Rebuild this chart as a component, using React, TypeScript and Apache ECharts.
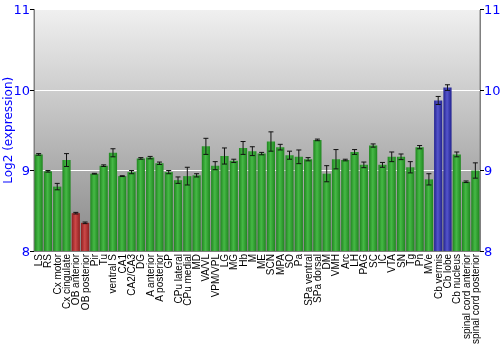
import React, { useEffect, useRef } from "react";
import * as echarts from "echarts";

const categories = [
  "LS", "RS", "Cx motor", "Cx cingulate", "OB anterior", "OB posterior", "Pir", "Tu",
  "ventral S", "CA1", "CA2/CA3", "DG", "A anterior", "A posterior", "GP", "CPu lateral",
  "CPu medial", "MD", "VA/VL", "VPM/VPL", "LG", "MG", "Hb", "M", "ME", "SCN", "MPA", "SO",
  "Pa", "SPa ventral", "SPa dorsal", "DM", "VMH", "Arc", "LH", "PAG", "SC", "IC", "VTA",
  "SN", "Tg", "Pn", "MVe", "Cb vermis", "Cb lobe", "Cb nucleus", "spinal cord anterior",
  "spinal cord posterior",
];

const values = [
  9.2, 8.99, 8.8, 9.13, 8.47, 8.35, 8.96, 9.06, 9.22, 8.93, 8.98, 9.15, 9.16, 9.09, 8.98,
  8.88, 8.93, 8.94, 9.3, 9.06, 9.18, 9.12, 9.28, 9.24, 9.21, 9.36, 9.29, 9.19, 9.17, 9.14,
  9.38, 8.96, 9.14, 9.13, 9.23, 9.07, 9.31, 9.07, 9.17, 9.17, 9.04, 9.29, 8.89, 9.87, 10.03,
  9.2, 8.86, 9.0,
];

const errors = [
  0.01, 0.01, 0.04, 0.08, 0.01, 0.01, 0.005, 0.01, 0.05, 0.005, 0.02, 0.01, 0.015, 0.015,
  0.02, 0.04, 0.11, 0.02, 0.1, 0.05, 0.1, 0.02, 0.08, 0.055, 0.015, 0.12, 0.035, 0.05,
  0.085, 0.02, 0.01, 0.1, 0.12, 0.01, 0.03, 0.035, 0.02, 0.03, 0.06, 0.035, 0.07, 0.02,
  0.07, 0.05, 0.035, 0.03, 0.01, 0.095,
];

// group per category: g = green, r = red (olfactory bulb), b = blue (cerebellum)
const groups = [
  "g", "g", "g", "g", "r", "r", "g", "g", "g", "g", "g", "g", "g", "g", "g", "g",
  "g", "g", "g", "g", "g", "g", "g", "g", "g", "g", "g", "g", "g", "g", "g", "g",
  "g", "g", "g", "g", "g", "g", "g", "g", "g", "g", "g", "b", "b", "g", "g", "g",
];

const yTicks = [8, 9, 10, 11];

const palette: Record<string, [string, string]> = {
  g: ["#1f861f", "#46b946"],
  r: ["#8f2020", "#cc4848"],
  b: ["#22228f", "#5555cc"],
};

function grad(edge: string, mid: string) {
  return new echarts.graphic.LinearGradient(0, 0, 1, 0, [
    { offset: 0, color: edge },
    { offset: 0.45, color: mid },
    { offset: 1, color: edge },
  ]);
}

export default function App() {
  const ref = useRef<HTMLDivElement>(null);
  useEffect(() => {
    if (!ref.current) return;
    const chart = echarts.init(ref.current, undefined, { renderer: "svg" });
    const axisLabelStyle = {
      color: "#0000ff",
      fontFamily: "DejaVu Sans",
      fontSize: 13,
      margin: 4,
    };
    chart.setOption({
      animation: false,
      grid: {
        left: 34,
        right: 20,
        top: 9.5,
        bottom: 99,
        outerBoundsMode: "none",
        containLabel: false,
        show: true,
        borderColor: "#808080",
        borderWidth: 1,
        backgroundColor: new echarts.graphic.LinearGradient(0, 0, 0, 1, [
          { offset: 0, color: "#f0f0f0" },
          { offset: 1, color: "#888888" },
        ]),
      },
      xAxis: {
        type: "category",
        data: categories,
        axisLine: { show: true, lineStyle: { color: "#808080" } },
        axisTick: { show: false },
        axisLabel: {
          interval: 0,
          rotate: 90,
          color: "#000",
          fontFamily: "Liberation Sans",
          fontSize: 10,
          margin: 3,
        },
      },
      yAxis: [
        {
          type: "value",
          min: yTicks[0],
          max: yTicks[yTicks.length - 1],
          interval: 1,
          name: "Log2 (expression)",
          nameLocation: "middle",
          nameGap: 20,
          nameMoveOverlap: false,
          nameTextStyle: { color: "#0000ff", fontFamily: "DejaVu Sans", fontSize: 12 },
          axisLine: { show: true, lineStyle: { color: "#808080" } },
          axisTick: { show: true, length: 4, lineStyle: { color: "#000" } },
          axisLabel: axisLabelStyle,
          splitLine: { show: true, lineStyle: { color: "#ffffff", width: 1 } },
        },
        {
          type: "value",
          min: yTicks[0],
          max: yTicks[yTicks.length - 1],
          interval: 1,
          position: "right",
          axisLine: { show: true, lineStyle: { color: "#808080" } },
          axisTick: { show: true, length: 4, lineStyle: { color: "#000" } },
          axisLabel: axisLabelStyle,
          splitLine: { show: false },
        },
      ],
      series: [
        {
          type: "bar",
          barCategoryGap: "12%",
          data: values.map((v, i) => ({
            value: v,
            itemStyle: { color: grad(palette[groups[i]][0], palette[groups[i]][1]) },
          })),
        },
        {
          type: "custom",
          data: values.map((v, i) => [i, v - errors[i], v + errors[i]]),
          renderItem: (params: any, api: any) => {
            const idx = api.value(0);
            const lo = api.coord([idx, api.value(1)]);
            const hi = api.coord([idx, api.value(2)]);
            const cap = 2.5;
            const style = { stroke: "#111111", lineWidth: 1 };
            return {
              type: "group",
              children: [
                { type: "line", shape: { x1: lo[0], y1: lo[1], x2: hi[0], y2: hi[1] }, style },
                { type: "line", shape: { x1: lo[0] - cap, y1: lo[1], x2: lo[0] + cap, y2: lo[1] }, style },
                { type: "line", shape: { x1: hi[0] - cap, y1: hi[1], x2: hi[0] + cap, y2: hi[1] }, style },
              ],
            };
          },
          z: 5,
        },
      ],
    });
    return () => chart.dispose();
  }, []);
  return (
    <div
      ref={ref}
      style={{ position: "fixed", left: 0, top: 0, width: 500, height: 350 }}
    />
  );
}
